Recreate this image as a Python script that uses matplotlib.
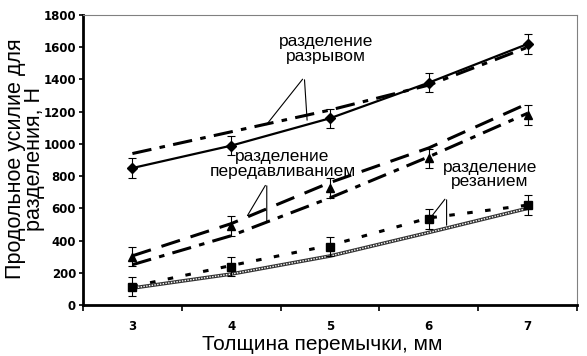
import matplotlib
matplotlib.use("Agg")
import matplotlib.pyplot as plt

plt.rcParams['font.family'] = ['Liberation Sans', 'DejaVu Sans']
plt.rcParams['lines.scale_dashes'] = False

thickness = [3, 4, 5, 6, 7]
err = [60, 60, 60, 60, 60]

# разделение разрывом
rupture_exp = [850, 989, 1159, 1380, 1620]
rupture_calc = [940, 1075, 1210, 1365, 1600]

# разделение передавливанием
press_exp = [300, 490, 726, 910, 1180]
press_calc1 = [305, 505, 760, 975, 1250]
press_calc2 = [250, 430, 665, 920, 1190]

# разделение резанием
cut_exp = [114, 238, 362, 534, 620]
cut_calc1 = [115, 245, 370, 540, 620]
cut_calc2 = [105, 192, 304, 450, 600]

fig = plt.figure(figsize=(5.87, 3.56), dpi=100)
ax = fig.add_axes([0.1414, 0.1433, 0.9830 - 0.1414, 0.9579 - 0.1433])

# разрывом
ax.plot(thickness, rupture_calc, color='black', lw=2.2, dashes=(14, 6, 4, 6))
ax.errorbar(thickness, rupture_exp, yerr=err, color='black', lw=1.6, marker='D',
            ms=5.5, ecolor='black', elinewidth=0.8, capsize=3, capthick=0.8)

# передавливанием
ax.plot(thickness, press_calc1, color='black', lw=2.2, dashes=(14, 8))
ax.plot(thickness, press_calc2, color='black', lw=2.2, dashes=(14, 6, 4, 6))
ax.errorbar(thickness, press_exp, yerr=err, color='black', ls='none', marker='^',
            ms=6, ecolor='black', elinewidth=0.8, capsize=3, capthick=0.8)

# резанием
ax.plot(thickness, cut_calc1, color='black', lw=2.2, dashes=(4, 9))
ax.plot(thickness, cut_calc2, color='#333333', lw=2.6)
ax.plot(thickness, cut_calc2, color='white', lw=1.0, dashes=(1, 1))
ax.errorbar(thickness, cut_exp, yerr=err, color='black', ls='none', marker='s',
            ms=5.5, ecolor='black', elinewidth=0.8, capsize=3, capthick=0.8)

ax.set_xlim(2.5, 7.5)
ax.set_ylim(0, 1800)
ax.set_xticks(thickness)
ax.set_xticks([2.5, 3.5, 4.5, 5.5, 6.5, 7.5], minor=True)
ax.set_yticks(range(0, 1801, 200))
ax.tick_params(axis='x', which='major', length=0, pad=11)
ax.tick_params(axis='x', which='minor', length=4, width=1.2, direction='out')
ax.tick_params(axis='y', length=3, width=1.2, pad=2)
for lab in ax.get_xticklabels() + ax.get_yticklabels():
    lab.set_fontfamily('DejaVu Sans')
    lab.set_fontweight('bold')
    lab.set_fontsize(8.5)

for s in ['left', 'bottom']:
    ax.spines[s].set_linewidth(2)
    ax.spines[s].set_color('black')
for s in ['top', 'right']:
    ax.spines[s].set_linewidth(0.8)
    ax.spines[s].set_color('#808080')

ax.set_xlabel('Толщина перемычки, мм', fontsize=15, va='center')
ax.xaxis.set_label_coords(0.485, -0.135)
ax.set_ylabel('Продольное усилие для\nразделения, Н', fontsize=15.5, linespacing=0.9,
              va='center')
ax.yaxis.set_label_coords(-0.117, 0.505)

# annotations
arrow = dict(arrowstyle='-', color='black', lw=0.8)
ax.text(4.96, 1589, 'разделение\nразрывом', fontsize=12.5, ha='center', va='center',
        linespacing=0.95)
ax.annotate('', xy=(4.34, 1106), xytext=(4.74, 1415), arrowprops=arrow)
ax.annotate('', xy=(4.77, 1130), xytext=(4.74, 1415), arrowprops=arrow)

ax.text(4.52, 875, 'разделение\nпередавливанием', fontsize=12.5, ha='center',
        va='center', linespacing=0.95)
ax.annotate('', xy=(4.15, 540), xytext=(4.36, 757), arrowprops=arrow)
ax.annotate('', xy=(4.36, 497), xytext=(4.36, 757), arrowprops=arrow)

ax.text(6.62, 810, 'разделение\nрезанием', fontsize=12.5, ha='center', va='center',
        linespacing=0.95)
ax.annotate('', xy=(6.0, 528), xytext=(6.18, 670), arrowprops=arrow)
ax.annotate('', xy=(6.18, 478), xytext=(6.18, 670), arrowprops=arrow)

fig.savefig('out.png', dpi=100)
